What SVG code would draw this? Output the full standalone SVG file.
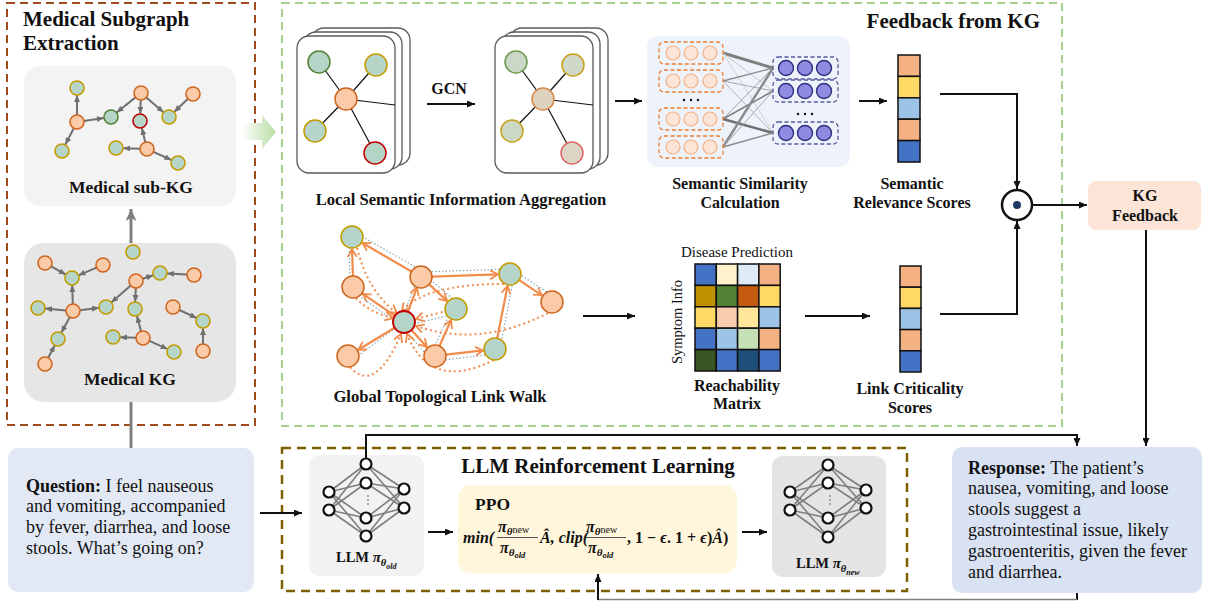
<svg xmlns="http://www.w3.org/2000/svg" width="1205" height="601" viewBox="0 0 1205 601">
<defs>
<style>
text{font-family:"Liberation Serif","Times New Roman",serif;fill:#111}
.b{font-weight:bold}
.t20{font-size:21px;font-weight:bold}
.t15{font-size:16px;font-weight:bold}
.t16{font-size:16.6px;font-weight:bold}
.t17{font-size:17.5px;font-weight:bold}
.q{font-size:18px}
.on{fill:#FBCBA9;stroke:#D0661E;stroke-width:1.6}
.tn{fill:#B5D5C9;stroke:#C49A00;stroke-width:1.6}
.gn{fill:#B5D5C9;stroke:#548235;stroke-width:1.6}
.rn{fill:#B5D5C9;stroke:#C00000;stroke-width:1.6}
.ke{stroke:#707070;stroke-width:2;fill:none;marker-end:url(#ga)}
.card{fill:#fff;stroke:#595959;stroke-width:1.3}
.ce{stroke:#111;stroke-width:1.2}
.oe{stroke:#F28C4C;stroke-width:2.2;fill:none;marker-end:url(#oa)}
.od{stroke:#F28C4C;stroke-width:2;stroke-dasharray:2 3;fill:none;marker-end:url(#oa)}
.gd{stroke:#7FA3AE;stroke-width:1.1;stroke-dasharray:1.5 2;fill:none}
.ar{stroke:#111;stroke-width:2;fill:none;marker-end:url(#ba)}
.nn{stroke:#7F7F7F;stroke-width:1.6}
.nc{fill:#fff;stroke:#111;stroke-width:2.2}
.oc{fill:#FCE4D6;stroke:#F4B183;stroke-width:1.2}
.pc{fill:#8E8CE0;stroke:#2E2E80;stroke-width:1.4}
.obx{fill:none;stroke:#ED7D31;stroke-width:1.3;stroke-dasharray:4 2.5}
.pbx{fill:none;stroke:#5A5A9E;stroke-width:1.3;stroke-dasharray:4 2.5}
.fm{font-size:16px;font-weight:bold;font-style:italic}
.cell{stroke:#111;stroke-width:1.5}
</style>
<marker id="ba" viewBox="0 0 8 7" refX="8" refY="3.5" markerWidth="8" markerHeight="7" markerUnits="userSpaceOnUse" orient="auto"><path d="M0,0 L8,3.5 L0,7 z" fill="#111"/></marker>
<marker id="ga" viewBox="0 0 7 6" refX="7" refY="3" markerWidth="7" markerHeight="6" markerUnits="userSpaceOnUse" orient="auto"><path d="M0,0 L7,3 L0,6 z" fill="#707070"/></marker>
<marker id="gab" viewBox="0 0 12 11" refX="12" refY="5.5" markerWidth="12" markerHeight="11" markerUnits="userSpaceOnUse" orient="auto"><path d="M0,0 L12,5.5 L0,11 L3,5.5 z" fill="#808080"/></marker>
<marker id="oa" viewBox="0 0 9 10" refX="8" refY="5" markerWidth="9" markerHeight="10" markerUnits="userSpaceOnUse" orient="auto"><path d="M0,0.5 L8,5 L0,9.5" fill="none" stroke="#F28C4C" stroke-width="1.8"/></marker>
<linearGradient id="gg" x1="0" y1="0" x2="1" y2="0"><stop offset="0" stop-color="#ffffff"/><stop offset="1" stop-color="#B9DDA4"/></linearGradient>
</defs>

<!-- panel frames -->
<g id="subgraph-panel">
<rect x="7" y="3" width="248" height="422" fill="none" stroke="#9E4C1C" stroke-width="2" stroke-dasharray="8 5"/>
<text class="t20" x="23" y="26">Medical Subgraph</text>
<text class="t20" x="23" y="50">Extraction</text>
</g>
<g id="kg-feedback-panel">
<rect x="282" y="3" width="780" height="423" fill="none" stroke="#A9D18E" stroke-width="2" stroke-dasharray="8 5"/>
<text class="t20" x="1040" y="28" text-anchor="end">Feedback from KG</text>
</g>
<g id="rl-panel">
<rect x="282" y="448" width="625" height="143" fill="none" stroke="#7F6000" stroke-width="2.5" stroke-dasharray="9 6"/>
<text class="t20" x="598" y="473" text-anchor="middle">LLM Reinforcement Learning</text>
</g>

<!-- Medical sub-KG -->
<g id="sub-kg">
<rect x="24" y="66" width="212" height="140" rx="16" fill="#F3F3F3"/>
<line class="ke" x1="77" y1="115" x2="77" y2="95"/>
<line class="ke" x1="83.9" y1="121" x2="103.8" y2="118.1"/>
<line class="ke" x1="73.8" y1="128.2" x2="65.3" y2="144.6"/>
<line class="ke" x1="135.5" y1="97.4" x2="116.6" y2="112.5"/>
<line class="ke" x1="140.7" y1="100" x2="140.3" y2="113.8"/>
<line class="ke" x1="146.3" y1="97.6" x2="163.5" y2="112.3"/>
<line class="ke" x1="187.9" y1="98.8" x2="174.2" y2="112"/>
<line class="ke" x1="145.3" y1="142.2" x2="141.8" y2="128"/>
<line class="ke" x1="140" y1="148.8" x2="123.2" y2="148.2"/>
<line class="ke" x1="153.4" y1="151.9" x2="171.4" y2="160"/>
<circle class="tn" cx="77" cy="88" r="7"/>
<circle class="on" cx="77" cy="122" r="7"/>
<circle class="gn" cx="111" cy="117" r="7"/>
<circle class="tn" cx="62" cy="151" r="7"/>
<circle class="on" cx="141" cy="93" r="7"/>
<circle class="rn" cx="140" cy="121" r="7"/>
<circle class="tn" cx="169" cy="117" r="7"/>
<circle class="on" cx="193" cy="94" r="7"/>
<circle class="tn" cx="116" cy="148" r="7"/>
<circle class="on" cx="147" cy="149" r="7"/>
<circle class="tn" cx="178" cy="163" r="7"/>
<text class="t17" x="131" y="193" text-anchor="middle">Medical sub-KG</text>
</g>

<!-- Medical KG -->
<g id="medical-kg">
<rect x="24" y="243" width="212" height="159" rx="20" fill="#E6E6E6"/>
<line class="ke" x1="51.1" y1="266.4" x2="65.9" y2="274.6"/>
<line class="ke" x1="96.5" y1="267.7" x2="78.5" y2="275.3"/>
<line class="ke" x1="72.8" y1="304" x2="72.2" y2="285"/>
<line class="ke" x1="66" y1="310.4" x2="45" y2="308.6"/>
<line class="ke" x1="80" y1="310.2" x2="99" y2="307.8"/>
<line class="ke" x1="69.7" y1="317.2" x2="61.3" y2="332.8"/>
<line class="ke" x1="48.2" y1="357.8" x2="54.8" y2="345.2"/>
<line class="ke" x1="130.7" y1="285.6" x2="111.3" y2="302.4"/>
<line class="ke" x1="142.6" y1="278.8" x2="153.4" y2="275.2"/>
<line class="ke" x1="135.8" y1="288" x2="135.2" y2="302"/>
<line class="ke" x1="187" y1="274.6" x2="167" y2="273.4"/>
<line class="ke" x1="141.1" y1="331.3" x2="136.9" y2="315.7"/>
<line class="ke" x1="136" y1="337.8" x2="120" y2="337.2"/>
<line class="ke" x1="149.4" y1="340.9" x2="167.6" y2="349.1"/>
<line class="ke" x1="179.3" y1="310" x2="196.7" y2="318"/>
<line class="ke" x1="203" y1="344" x2="203" y2="328"/>
<circle class="tn" cx="133" cy="252" r="7"/>
<circle class="on" cx="45" cy="263" r="7"/>
<circle class="on" cx="103" cy="265" r="7"/>
<circle class="tn" cx="72" cy="278" r="7"/>
<circle class="on" cx="136" cy="281" r="7"/>
<circle class="tn" cx="160" cy="273" r="7"/>
<circle class="on" cx="194" cy="275" r="7"/>
<circle class="tn" cx="38" cy="308" r="7"/>
<circle class="on" cx="73" cy="311" r="7"/>
<circle class="tn" cx="106" cy="307" r="7"/>
<circle class="tn" cx="135" cy="309" r="7"/>
<circle class="on" cx="173" cy="307" r="7"/>
<circle class="tn" cx="203" cy="321" r="7"/>
<circle class="tn" cx="58" cy="339" r="7"/>
<circle class="tn" cx="113" cy="337" r="7"/>
<circle class="on" cx="143" cy="338" r="7"/>
<circle class="tn" cx="174" cy="352" r="7"/>
<circle class="on" cx="203" cy="351" r="7"/>
<circle class="on" cx="45" cy="364" r="7"/>
<text class="t17" x="130" y="385" text-anchor="middle">Medical KG</text>
</g>

<!-- Local semantic aggregation -->
<g id="local-aggregation">
<g id="stack-before">
<rect class="card" x="312" y="28" width="98" height="137" rx="12"/>
<rect class="card" x="304" y="32" width="98" height="137" rx="12"/>
<rect class="card" x="297" y="36" width="98" height="137" rx="12"/>
<line class="ce" x1="346" y1="99" x2="319" y2="62"/>
<line class="ce" x1="346" y1="99" x2="376" y2="65"/>
<line class="ce" x1="346" y1="99" x2="315" y2="131"/>
<line class="ce" x1="346" y1="99" x2="375" y2="153"/>
<line class="ce" x1="346" y1="99" x2="395" y2="105"/>
<circle cx="319" cy="62" r="11" fill="#B5D5C9" stroke="#548235" stroke-width="1.5"/>
<circle cx="376" cy="65" r="11" fill="#B5D5C9" stroke="#C49A00" stroke-width="1.5"/>
<circle cx="346" cy="99" r="11" fill="#FBCBA9" stroke="#D0661E" stroke-width="1.5"/>
<circle cx="315" cy="131" r="11" fill="#B5D5C9" stroke="#C49A00" stroke-width="1.5"/>
<circle cx="375" cy="153" r="11" fill="#B5D5C9" stroke="#C00000" stroke-width="1.5"/>
</g>
<g id="stack-after">
<rect class="card" x="510" y="28" width="98" height="137" rx="12"/>
<rect class="card" x="502" y="32" width="98" height="137" rx="12"/>
<rect class="card" x="495" y="36" width="98" height="137" rx="12"/>
<line class="ce" x1="543" y1="99" x2="516" y2="62"/>
<line class="ce" x1="543" y1="99" x2="573" y2="65"/>
<line class="ce" x1="543" y1="99" x2="512" y2="131"/>
<line class="ce" x1="543" y1="99" x2="572" y2="153"/>
<line class="ce" x1="543" y1="99" x2="593" y2="105"/>
<circle cx="516" cy="62" r="11" fill="#CCD8C6" stroke="#6E9A50" stroke-width="1.5"/>
<circle cx="573" cy="65" r="11" fill="#D0D8C8" stroke="#C9A21A" stroke-width="1.5"/>
<circle cx="543" cy="99" r="11" fill="#DDD2BC" stroke="#D88A4A" stroke-width="1.5"/>
<circle cx="512" cy="131" r="11" fill="#CCD8C6" stroke="#C9A21A" stroke-width="1.5"/>
<circle cx="572" cy="153" r="11" fill="#DDD4C4" stroke="#E06868" stroke-width="1.5"/>
</g>
<text class="t15" x="449" y="94" text-anchor="middle">GCN</text>
<text class="t16" x="461" y="205" text-anchor="middle">Local Semantic Information Aggregation</text>
</g>

<!-- Semantic similarity -->
<g id="semantic-similarity">
<rect x="647" y="36" width="203" height="131" rx="11" fill="#EEF2FA"/>
<g>
<line x1="723" y1="53" x2="773" y2="68" stroke="#7F7F7F" stroke-width="3"/>
<line x1="723" y1="53" x2="773" y2="91" stroke="#C8C8C8" stroke-width="1"/>
<line x1="723" y1="53" x2="773" y2="133" stroke="#D0D0D0" stroke-width="1"/>
<line x1="723" y1="81" x2="773" y2="68" stroke="#8C8C8C" stroke-width="1.3"/>
<line x1="723" y1="81" x2="773" y2="91" stroke="#A6A6A6" stroke-width="1"/>
<line x1="723" y1="81" x2="773" y2="133" stroke="#B0B0B0" stroke-width="1"/>
<line x1="723" y1="119" x2="773" y2="68" stroke="#A0A0A0" stroke-width="1"/>
<line x1="723" y1="119" x2="773" y2="91" stroke="#7F7F7F" stroke-width="1.5"/>
<line x1="723" y1="119" x2="773" y2="133" stroke="#6F6F6F" stroke-width="2.5"/>
<line x1="723" y1="147" x2="773" y2="68" stroke="#8C8C8C" stroke-width="2.5"/>
<line x1="723" y1="147" x2="773" y2="91" stroke="#A6A6A6" stroke-width="1"/>
<line x1="723" y1="147" x2="773" y2="133" stroke="#8C8C8C" stroke-width="1.5"/>
</g>
<g>
<rect class="obx" x="659" y="42" width="64" height="22" rx="5"/>
<rect class="obx" x="659" y="70" width="64" height="22" rx="5"/>
<rect class="obx" x="659" y="108" width="64" height="22" rx="5"/>
<rect class="obx" x="659" y="136" width="64" height="22" rx="5"/>
<circle class="oc" cx="673" cy="53" r="7"/><circle class="oc" cx="691" cy="53" r="7"/><circle class="oc" cx="710" cy="53" r="7"/>
<circle class="oc" cx="673" cy="81" r="7"/><circle class="oc" cx="691" cy="81" r="7"/><circle class="oc" cx="710" cy="81" r="7"/>
<circle class="oc" cx="673" cy="119" r="7"/><circle class="oc" cx="691" cy="119" r="7"/><circle class="oc" cx="710" cy="119" r="7"/>
<circle class="oc" cx="673" cy="147" r="7"/><circle class="oc" cx="691" cy="147" r="7"/><circle class="oc" cx="710" cy="147" r="7"/>
<circle cx="684" cy="100" r="1.2" fill="#111"/><circle cx="691" cy="100" r="1.2" fill="#111"/><circle cx="698" cy="100" r="1.2" fill="#111"/>
</g>
<g>
<rect class="pbx" x="773" y="57" width="65" height="22" rx="5"/>
<rect class="pbx" x="773" y="80" width="65" height="22" rx="5"/>
<rect class="pbx" x="773" y="122" width="65" height="22" rx="5"/>
<circle class="pc" cx="786" cy="68" r="7.5"/><circle class="pc" cx="805" cy="68" r="7.5"/><circle class="pc" cx="824" cy="68" r="7.5"/>
<circle class="pc" cx="786" cy="91" r="7.5"/><circle class="pc" cx="805" cy="91" r="7.5"/><circle class="pc" cx="824" cy="91" r="7.5"/>
<circle class="pc" cx="786" cy="133" r="7.5"/><circle class="pc" cx="805" cy="133" r="7.5"/><circle class="pc" cx="824" cy="133" r="7.5"/>
<circle cx="798" cy="114" r="1.2" fill="#111"/><circle cx="805" cy="114" r="1.2" fill="#111"/><circle cx="812" cy="114" r="1.2" fill="#111"/>
</g>
<text class="t15" x="740" y="189" text-anchor="middle">Semantic Similarity</text>
<text class="t15" x="740" y="208" text-anchor="middle">Calculation</text>
</g>

<!-- Semantic relevance scores -->
<g id="semantic-relevance">
<rect class="cell" x="898" y="55" width="22" height="21.4" fill="#F4B183"/>
<rect class="cell" x="898" y="76.4" width="22" height="21.4" fill="#FFD966"/>
<rect class="cell" x="898" y="97.8" width="22" height="21.4" fill="#9DC3E6"/>
<rect class="cell" x="898" y="119.2" width="22" height="21.4" fill="#F4B183"/>
<rect class="cell" x="898" y="140.6" width="22" height="21.4" fill="#4472C4"/>
<text class="t15" x="912" y="189" text-anchor="middle">Semantic</text>
<text class="t15" x="912" y="208" text-anchor="middle">Relevance Scores</text>
</g>

<!-- Global topological link walk -->
<g id="global-walk">
<g>
<line class="gd" x1="349" y1="237" x2="350" y2="287"/>
<line class="gd" x1="356" y1="233" x2="424" y2="272"/>
<line class="gd" x1="353" y1="291" x2="401" y2="326"/>
<line class="gd" x1="418" y1="277" x2="401" y2="322"/>
<line class="gd" x1="421" y1="272" x2="510" y2="269"/>
<line class="gd" x1="513" y1="270" x2="556" y2="298"/>
<line class="gd" x1="500" y1="349" x2="514" y2="276"/>
<line class="gd" x1="404" y1="326" x2="456" y2="314"/>
<line class="gd" x1="430" y1="356" x2="452" y2="309"/>
<line class="gd" x1="435" y1="361" x2="495" y2="354"/>
<line class="gd" x1="404" y1="322" x2="352" y2="360"/>
<line class="gd" x1="400" y1="324" x2="431" y2="360"/>
<line class="gd" x1="425" y1="275" x2="460" y2="305"/>
</g>
<g>
<path class="od" d="M357,248 Q368,292 397,313"/>
<path class="od" d="M356,298 Q368,312 393,318"/>
<path class="od" d="M504,284 Q425,284 402,311"/>
<path class="od" d="M548,313 Q480,348 416,326"/>
<path class="od" d="M467,307 Q440,312 416,319"/>
<path class="od" d="M350,367 Q375,395 401,334"/>
<path class="od" d="M494,360 Q430,392 407,334"/>
</g>
<g>
<line class="oe" x1="353" y1="276" x2="352" y2="249"/>
<line class="oe" x1="411.5" y1="271.5" x2="362.4" y2="243"/>
<line class="oe" x1="394.9" y1="315.8" x2="362.9" y2="293.8"/>
<line class="oe" x1="407.9" y1="311.7" x2="417.1" y2="287.3"/>
<line class="oe" x1="429.1" y1="284.4" x2="447.1" y2="300.9"/>
<line class="oe" x1="432" y1="276.6" x2="498" y2="274.4"/>
<line class="oe" x1="519.2" y1="280.1" x2="542" y2="295.3"/>
<line class="oe" x1="394.6" y1="327.7" x2="358.3" y2="349.8"/>
<line class="oe" x1="411.4" y1="330.1" x2="426.9" y2="347.1"/>
<line class="oe" x1="439.5" y1="346" x2="451.1" y2="320"/>
<line class="oe" x1="446" y1="354.7" x2="483.1" y2="350.4"/>
<line class="oe" x1="497.2" y1="338.2" x2="507.6" y2="285.8"/>
</g>
<g>
<circle cx="352" cy="237" r="11" fill="#B5D5C9" stroke="#C49A00" stroke-width="1.5"/>
<circle cx="353" cy="287" r="11" fill="#FBCBA9" stroke="#D0661E" stroke-width="1.5"/>
<circle cx="421" cy="277" r="11" fill="#FBCBA9" stroke="#D0661E" stroke-width="1.5"/>
<circle cx="510" cy="274" r="11" fill="#B5D5C9" stroke="#C49A00" stroke-width="1.5"/>
<circle cx="552" cy="302" r="11" fill="#FBCBA9" stroke="#D0661E" stroke-width="1.5"/>
<circle cx="456" cy="309" r="11" fill="#B5D5C9" stroke="#C49A00" stroke-width="1.5"/>
<circle cx="404" cy="322" r="11" fill="#B5D5C9" stroke="#C00000" stroke-width="1.8"/>
<circle cx="348" cy="356" r="11" fill="#FBCBA9" stroke="#D0661E" stroke-width="1.5"/>
<circle cx="435" cy="356" r="11" fill="#FBCBA9" stroke="#D0661E" stroke-width="1.5"/>
<circle cx="495" cy="349" r="11" fill="#B5D5C9" stroke="#C49A00" stroke-width="1.5"/>
</g>
<text class="t16" x="440" y="402" text-anchor="middle">Global Topological Link Walk</text>
</g>

<!-- Reachability matrix -->
<g id="reachability-matrix">
<text x="737" y="257" font-size="15" text-anchor="middle">Disease Prediction</text>
<text x="0" y="0" font-size="14.5" text-anchor="middle" transform="translate(682,322) rotate(-90)">Symptom Info</text>
<g class="cell">
<rect x="695" y="264" width="21.3" height="21.4" fill="#4472C4"/>
<rect x="716.3" y="264" width="21.3" height="21.4" fill="#FFF2CC"/>
<rect x="737.6" y="264" width="21.3" height="21.4" fill="#DEEBF7"/>
<rect x="758.9" y="264" width="21.3" height="21.4" fill="#F4B183"/>
<rect x="695" y="285.4" width="21.3" height="21.4" fill="#BF9000"/>
<rect x="716.3" y="285.4" width="21.3" height="21.4" fill="#548235"/>
<rect x="737.6" y="285.4" width="21.3" height="21.4" fill="#C55A11"/>
<rect x="758.9" y="285.4" width="21.3" height="21.4" fill="#FFD966"/>
<rect x="695" y="306.8" width="21.3" height="21.4" fill="#FFD966"/>
<rect x="716.3" y="306.8" width="21.3" height="21.4" fill="#F8CBAD"/>
<rect x="737.6" y="306.8" width="21.3" height="21.4" fill="#FFE699"/>
<rect x="758.9" y="306.8" width="21.3" height="21.4" fill="#9DC3E6"/>
<rect x="695" y="328.2" width="21.3" height="21.4" fill="#4472C4"/>
<rect x="716.3" y="328.2" width="21.3" height="21.4" fill="#9DC3E6"/>
<rect x="737.6" y="328.2" width="21.3" height="21.4" fill="#C5E0B4"/>
<rect x="758.9" y="328.2" width="21.3" height="21.4" fill="#F4B183"/>
<rect x="695" y="349.6" width="21.3" height="21.4" fill="#375623"/>
<rect x="716.3" y="349.6" width="21.3" height="21.4" fill="#4472C4"/>
<rect x="737.6" y="349.6" width="21.3" height="21.4" fill="#1F4E79"/>
<rect x="758.9" y="349.6" width="21.3" height="21.4" fill="#4472C4"/>
</g>
<text class="t15" x="737" y="391" text-anchor="middle">Reachability</text>
<text class="t15" x="737" y="409" text-anchor="middle">Matrix</text>
</g>

<!-- Link criticality scores -->
<g id="link-criticality">
<rect class="cell" x="900" y="266" width="21" height="21.2" fill="#F4B183"/>
<rect class="cell" x="900" y="287.2" width="21" height="21.2" fill="#FFD966"/>
<rect class="cell" x="900" y="308.4" width="21" height="21.2" fill="#9DC3E6"/>
<rect class="cell" x="900" y="329.6" width="21" height="21.2" fill="#F4B183"/>
<rect class="cell" x="900" y="350.8" width="21" height="21.2" fill="#4472C4"/>
<text class="t15" x="910" y="394" text-anchor="middle">Link Criticality</text>
<text class="t15" x="910" y="413" text-anchor="middle">Scores</text>
</g>

<!-- Fusion operator -->
<g id="fusion">
<circle cx="1017" cy="205" r="15" fill="#fff" stroke="#111" stroke-width="2.5"/>
<circle cx="1017" cy="205" r="4" fill="#1F3864"/>
</g>

<!-- KG feedback -->
<g id="kg-feedback">
<rect x="1088" y="181" width="113" height="49" rx="8" fill="#FCE4D6"/>
<text class="t15" x="1145" y="201" text-anchor="middle">KG</text>
<text class="t15" x="1145" y="221" text-anchor="middle">Feedback</text>
</g>

<!-- Question -->
<g id="question">
<rect x="8" y="448" width="246" height="144" rx="10" fill="#E2E9F5"/>
<text class="q" x="26" y="492"><tspan class="b">Question:</tspan> I feel nauseous</text>
<text class="q" x="26" y="512">and vomiting, accompanied</text>
<text class="q" x="26" y="533">by fever, diarrhea, and loose</text>
<text class="q" x="26" y="554">stools. What’s going on?</text>
</g>

<!-- LLM old -->
<g id="llm-old">
<rect x="309" y="455" width="115" height="121" rx="11" fill="#F2F2F2"/>
<g class="nn">
<line x1="329" y1="492" x2="366" y2="464"/><line x1="329" y1="492" x2="366" y2="483"/><line x1="329" y1="492" x2="366" y2="518"/><line x1="329" y1="492" x2="366" y2="536"/>
<line x1="329" y1="510" x2="366" y2="464"/><line x1="329" y1="510" x2="366" y2="483"/><line x1="329" y1="510" x2="366" y2="518"/><line x1="329" y1="510" x2="366" y2="536"/>
<line x1="404" y1="489" x2="366" y2="464"/><line x1="404" y1="489" x2="366" y2="483"/><line x1="404" y1="489" x2="366" y2="518"/><line x1="404" y1="489" x2="366" y2="536"/>
<line x1="404" y1="508" x2="366" y2="464"/><line x1="404" y1="508" x2="366" y2="483"/><line x1="404" y1="508" x2="366" y2="518"/><line x1="404" y1="508" x2="366" y2="536"/>
</g>
<circle class="nc" cx="329" cy="492" r="5.5"/><circle class="nc" cx="329" cy="510" r="5.5"/>
<circle class="nc" cx="366" cy="464" r="5.5"/><circle class="nc" cx="366" cy="483" r="5.5"/><circle class="nc" cx="366" cy="518" r="5.5"/><circle class="nc" cx="366" cy="536" r="5.5"/>
<circle class="nc" cx="404" cy="489" r="5.5"/><circle class="nc" cx="404" cy="508" r="5.5"/>
<circle cx="368" cy="496" r="0.7" fill="#333"/><circle cx="368" cy="500" r="0.7" fill="#333"/><circle cx="368" cy="504" r="0.7" fill="#333"/>
<text x="336" y="562" font-size="14.5" class="b">LLM <tspan font-style="italic" font-size="15">π</tspan><tspan font-size="10.5" font-style="italic" dy="4">θ</tspan><tspan font-size="8" font-style="italic" dy="3">old</tspan></text>
</g>

<!-- PPO -->
<g id="ppo">
<rect x="458" y="485" width="279" height="88" rx="13" fill="#FFF6DC"/>
<text class="t17" x="475" y="510">PPO</text>
<text class="fm" x="463" y="543">min(</text>
<text class="fm" x="498" y="532" font-size="16">π<tspan font-size="11" dy="3">θ</tspan><tspan font-size="10" font-style="normal" font-weight="normal" dy="-2">new</tspan></text>
<line x1="497" y1="537.5" x2="538" y2="537.5" stroke="#111" stroke-width="0.7"/>
<text class="fm" x="500" y="553" font-size="16">π<tspan font-size="11" dy="3">θ</tspan><tspan font-size="8.5" dy="2">old</tspan></text>
<text class="fm" x="540" y="543">Â, clip(</text>
<text class="fm" x="586" y="532" font-size="16">π<tspan font-size="11" dy="3">θ</tspan><tspan font-size="10" font-style="normal" font-weight="normal" dy="-2">new</tspan></text>
<line x1="585" y1="537.5" x2="626" y2="537.5" stroke="#111" stroke-width="0.7"/>
<text class="fm" x="588" y="553" font-size="16">π<tspan font-size="11" dy="3">θ</tspan><tspan font-size="8.5" dy="2">old</tspan></text>
<text class="fm" x="627" y="543"><tspan font-style="normal">, 1 − </tspan>ϵ<tspan font-style="normal">. 1 + </tspan>ϵ<tspan font-style="normal">)</tspan>Â<tspan font-style="normal">)</tspan></text>
</g>

<!-- LLM new -->
<g id="llm-new">
<rect x="772" y="456" width="114" height="121" rx="11" fill="#E4E4E4"/>
<g class="nn">
<line x1="790" y1="492" x2="828" y2="465"/><line x1="790" y1="492" x2="828" y2="483"/><line x1="790" y1="492" x2="828" y2="518"/><line x1="790" y1="492" x2="828" y2="537"/>
<line x1="790" y1="510" x2="828" y2="465"/><line x1="790" y1="510" x2="828" y2="483"/><line x1="790" y1="510" x2="828" y2="518"/><line x1="790" y1="510" x2="828" y2="537"/>
<line x1="866" y1="490" x2="828" y2="465"/><line x1="866" y1="490" x2="828" y2="483"/><line x1="866" y1="490" x2="828" y2="518"/><line x1="866" y1="490" x2="828" y2="537"/>
<line x1="866" y1="508" x2="828" y2="465"/><line x1="866" y1="508" x2="828" y2="483"/><line x1="866" y1="508" x2="828" y2="518"/><line x1="866" y1="508" x2="828" y2="537"/>
</g>
<circle class="nc" cx="790" cy="492" r="5.5"/><circle class="nc" cx="790" cy="510" r="5.5"/>
<circle class="nc" cx="828" cy="465" r="5.5"/><circle class="nc" cx="828" cy="483" r="5.5"/><circle class="nc" cx="828" cy="518" r="5.5"/><circle class="nc" cx="828" cy="537" r="5.5"/>
<circle class="nc" cx="866" cy="490" r="5.5"/><circle class="nc" cx="866" cy="508" r="5.5"/>
<circle cx="830" cy="496" r="0.7" fill="#333"/><circle cx="830" cy="500" r="0.7" fill="#333"/><circle cx="830" cy="504" r="0.7" fill="#333"/>
<text x="796" y="568" font-size="14.5" class="b">LLM <tspan font-style="italic" font-size="15">π</tspan><tspan font-size="10.5" font-style="italic" dy="4">θ</tspan><tspan font-size="8" font-style="italic" dy="3">new</tspan></text>
</g>

<!-- Response -->
<g id="response">
<rect x="952" y="447" width="250" height="146" rx="10" fill="#D9E2F3"/>
<text class="q" x="968" y="474"><tspan class="b">Response:</tspan> The patient’s</text>
<text class="q" x="968" y="494">nausea, vomiting, and loose</text>
<text class="q" x="968" y="515">stools suggest a</text>
<text class="q" x="968" y="536">gastrointestinal issue, likely</text>
<text class="q" x="968" y="557">gastroenteritis, given the fever</text>
<text class="q" x="968" y="578">and diarrhea.</text>
</g>

<!-- connectors -->
<g id="connectors">
<polygon points="242,123 262,123 262,115 276,132 262,149 262,140 242,140" fill="url(#gg)"/>
<line x1="131" y1="243" x2="131" y2="209" stroke="#808080" stroke-width="3" marker-end="url(#gab)"/>
<line x1="131" y1="402" x2="131" y2="448" stroke="#808080" stroke-width="3"/>
<line class="ar" x1="427" y1="104" x2="475" y2="104"/>
<line class="ar" x1="615" y1="101" x2="642" y2="101"/>
<line class="ar" x1="859" y1="101" x2="887" y2="101"/>
<path class="ar" d="M940,94 H1017 V189"/>
<line class="ar" x1="583" y1="316" x2="635" y2="316"/>
<line class="ar" x1="805" y1="316" x2="870" y2="316"/>
<path class="ar" d="M940,314 H1017 V221"/>
<line class="ar" x1="1032" y1="205" x2="1087" y2="205"/>
<line class="ar" x1="1146" y1="230" x2="1146" y2="446"/>
<line class="ar" x1="260" y1="513" x2="302" y2="513"/>
<line class="ar" x1="428" y1="532" x2="453" y2="532"/>
<line class="ar" x1="742" y1="532" x2="767" y2="532"/>
<path class="ar" d="M366,458 V435 H1077 V446"/>
<line x1="1077" y1="593" x2="1077" y2="600" stroke="#111" stroke-width="2"/>
<line x1="598" y1="599.5" x2="1077" y2="599.5" stroke="#7F7F7F" stroke-width="1.5"/>
<line class="ar" x1="598" y1="600" x2="598" y2="574"/>
</g>
</svg>
